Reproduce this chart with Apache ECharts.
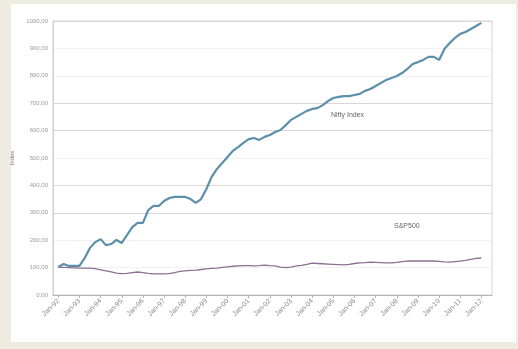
<!DOCTYPE html>
<html>
<head>
<meta charset="utf-8">
<script src="https://cdn.jsdelivr.net/npm/echarts@6/dist/echarts.min.js"></script>
<style>
  html, body { margin: 0; padding: 0; background: #eeece1; }
  #chart { width: 518px; height: 349px; }
</style>
</head>
<body>
<div id="chart"></div>
<script>
// Quarterly index levels, rebased to 100 at the start
const periodLabels = ['Jan-92','Jan-93','Jan-94','Jan-95','Jan-96','Jan-97','Jan-98','Jan-99','Jan-00','Jan-01',
  'Jan-02','Jan-03','Jan-04','Jan-05','Jan-06','Jan-07','Jan-08','Jan-09','Jan-10','Jan-11','Jan-12'];
const quartersPerLabel = 4;

const niftyIndex = [102,113,106,106,106,135,172,193,204,182,186,201,190,219,248,263,263,310,325,325,
  343,354,358,358,358,350,336,350,387,431,460,482,504,526,540,555,569,573,566,577,
  584,595,602,620,639,650,661,672,679,682,693,708,719,723,726,726,730,734,745,752,
  763,774,785,792,799,810,825,843,850,858,869,869,858,898,920,938,953,960,971,982,993];

const sp500 = [102,101,100,99,98,98,98,96,92,88,84,80,78,79,82,84,82,79,77,77,
  77,78,82,86,88,90,91,93,95,97,98,101,103,105,106,107,107,106,107,109,
  107,106,102,100,102,106,108,112,116,115,114,113,112,111,110,112,115,117,118,120,
  119,118,117,117,119,122,124,124,124,124,124,124,123,121,120,122,124,126,130,134,135];

const yTicks = { min: 0, max: 1000, step: 100 };

// Category axis with one empty slot before the data and two after,
// so the lines sit slightly inside the plot frame.
const padBefore = 1, padAfter = 2;
const categories = [];
for (let i = 0; i < padBefore; i++) categories.push('');
for (let i = 0; i < niftyIndex.length; i++) {
  categories.push(i % quartersPerLabel === 0 ? periodLabels[i / quartersPerLabel] : '');
}
for (let i = 0; i < padAfter; i++) categories.push('');
const padded = arr => Array(padBefore).fill('-').concat(arr, Array(padAfter).fill('-'));
const isLabelSlot = idx => idx >= padBefore && idx < padBefore + niftyIndex.length &&
  (idx - padBefore) % quartersPerLabel === 0;

const chart = echarts.init(document.getElementById('chart'), null, { renderer: 'canvas' });
chart.setOption({
  backgroundColor: '#eeece1',
  animation: false,
  graphic: [
    { type: 'rect', left: 11, top: 4, shape: { width: 505, height: 338 },
      style: { fill: '#ffffff' }, z: -10, silent: true },
    { type: 'text', left: 331, top: 112, z: 10,
      style: { text: 'Nifty Index', fill: '#666', font: '7px "Liberation Sans", Arial, sans-serif' } },
    { type: 'text', left: 394, top: 223, z: 10,
      style: { text: 'S&P500', fill: '#666', font: '7px "Liberation Sans", Arial, sans-serif' } }
  ],
  grid: { left: 53, right: 26, top: 21, bottom: 54, show: true, borderColor: '#d4d4d4', borderWidth: 1 },
  xAxis: {
    type: 'category',
    data: categories,
    boundaryGap: false,
    axisLine: { lineStyle: { color: '#b5b5b5', width: 1 } },
    axisTick: { show: true, interval: isLabelSlot, length: 3, lineStyle: { color: '#b5b5b5' } },
    axisLabel: {
      interval: isLabelSlot, rotate: 45, margin: 5,
      color: '#888', fontSize: 7, fontFamily: '"Liberation Sans", Arial, sans-serif'
    },
    splitLine: { show: false }
  },
  yAxis: {
    type: 'value',
    min: yTicks.min, max: yTicks.max, interval: yTicks.step,
    name: 'Index', nameLocation: 'middle', nameGap: 33, nameRotate: 90,
    nameTextStyle: { color: '#777', fontSize: 6, fontFamily: '"Liberation Sans", Arial, sans-serif' },
    axisLine: { show: true, lineStyle: { color: '#cfcfcf' } },
    axisTick: { show: false },
    axisLabel: {
      color: '#999', fontSize: 6, margin: 5, fontFamily: '"Liberation Sans", Arial, sans-serif',
      formatter: v => v.toFixed(2).replace('.', ',')
    },
    splitLine: {
      lineStyle: {
        width: 1,
        color: ['#d4d4d4', '#f1f1f1', '#f1f1f1', '#d8d8d8', '#e6d6d6', '#f1f1f1',
                '#d8d8d8', '#d8d8d8', '#f1f1f1', '#f1f1f1', '#d8d8d8']
      }
    }
  },
  series: [
    {
      name: 'Nifty Index', type: 'line', data: padded(niftyIndex),
      showSymbol: false, smooth: false,
      lineStyle: { color: '#5c8fa9', width: 2.2 }, z: 3
    },
    {
      name: 'S&P500', type: 'line', data: padded(sp500),
      showSymbol: false, smooth: false,
      lineStyle: { color: '#8d6f91', width: 1.3 }, z: 2
    }
  ]
});
</script>
</body>
</html>
